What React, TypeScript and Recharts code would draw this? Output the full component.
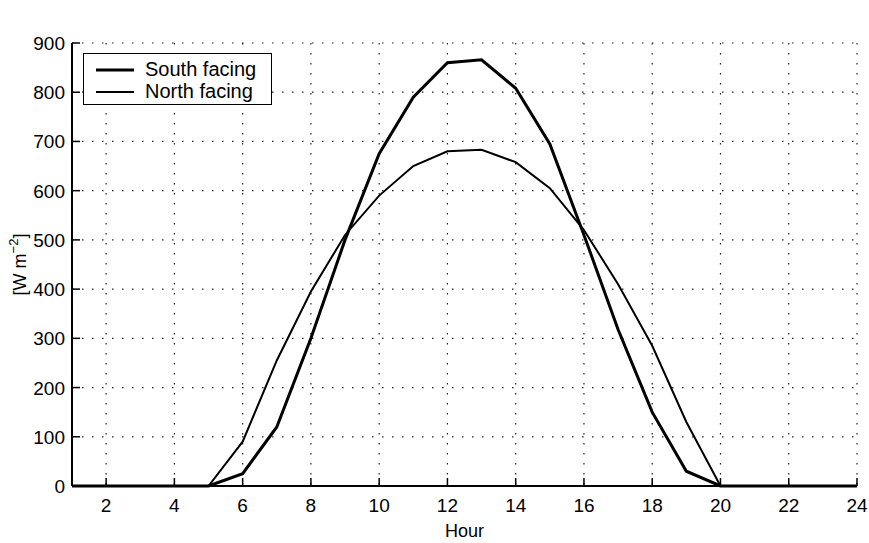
import React from 'react';
import { LineChart, Line, XAxis, YAxis, CartesianGrid, Legend } from 'recharts';

const hours = [1, 2, 3, 4, 5, 6, 7, 8, 9, 10, 11, 12, 13, 14, 15, 16, 17, 18, 19, 20, 21, 22, 23, 24];
const southFacing = [0, 0, 0, 0, 0, 25, 120, 300, 500, 675, 790, 860, 866, 808, 695, 510, 318, 150, 30, 0, 0, 0, 0, 0];
const northFacing = [0, 0, 0, 0, 0, 90, 255, 395, 510, 590, 650, 680, 683, 658, 605, 520, 410, 285, 130, 0, 0, 0, 0, 0];

const xTicks = [2, 4, 6, 8, 10, 12, 14, 16, 18, 20, 22, 24];
const yTicks = [0, 100, 200, 300, 400, 500, 600, 700, 800, 900];

const FONT = 'Liberation Sans, Arial, Helvetica, sans-serif';

const data = hours.map((h, i) => ({
  hour: h,
  south: southFacing[i],
  north: northFacing[i],
}));

const TICK = 8;

const BottomTick = (props: any) => {
  const { x, y, payload } = props;
  return (
    <g>
      <line x1={x} y1={y} x2={x} y2={y - TICK} stroke="#000" strokeWidth={1.5} />
      <text x={x} y={y + 26} textAnchor="middle" fontSize={19} fontFamily={FONT} fill="#000">
        {payload.value}
      </text>
    </g>
  );
};

const TopTick = (props: any) => {
  const { x, y } = props;
  return <line x1={x} y1={y} x2={x} y2={y + TICK} stroke="#000" strokeWidth={1.5} />;
};

const LeftTick = (props: any) => {
  const { x, y, payload } = props;
  return (
    <g>
      <line x1={x} y1={y} x2={x + TICK} y2={y} stroke="#000" strokeWidth={1.5} />
      <text x={x - 7} y={y + 7} textAnchor="end" fontSize={19} fontFamily={FONT} fill="#000">
        {payload.value}
      </text>
    </g>
  );
};

const RightTick = (props: any) => {
  const { x, y } = props;
  return <line x1={x} y1={y} x2={x - TICK} y2={y} stroke="#000" strokeWidth={1.5} />;
};

const YLabel = (props: any) => {
  const vb = props.viewBox || { x: 0, y: 43, width: 72, height: 443 };
  const cx = 26;
  const cy = vb.y + vb.height / 2;
  return (
    <text
      x={cx}
      y={cy}
      transform={`rotate(-90 ${cx} ${cy})`}
      textAnchor="middle"
      fontSize={18}
      fontFamily={FONT}
      fill="#000"
    >
      [W m<tspan dy={-8} fontSize={13}>−2</tspan>
      <tspan dy={8}>]</tspan>
    </text>
  );
};

const LegendBox = () => (
  <div
    style={{
      border: '1.5px solid #000',
      background: '#fff',
      width: 189,
      height: 52,
      boxSizing: 'border-box',
      fontFamily: FONT,
      fontSize: 20,
      color: '#000',
      padding: '4px 0 0 11px',
      lineHeight: '22px',
    }}
  >
    {[
      { name: 'South facing', w: 3 },
      { name: 'North facing', w: 2.2 },
    ].map((item) => (
      <div key={item.name} style={{ display: 'flex', alignItems: 'center' }}>
        <svg width={50} height={22}>
          <line x1={1} y1={12} x2={39} y2={12} stroke="#000" strokeWidth={item.w} />
        </svg>
        <span>{item.name}</span>
      </div>
    ))}
  </div>
);

export default function App() {
  return (
    <div style={{ position: 'absolute', left: 0, top: 0, background: '#fff' }}>
      <LineChart
        width={869}
        height={543}
        data={data}
        margin={{ top: 43, right: 12, bottom: 0, left: 0 }}
      >
        <CartesianGrid
          stroke="#222"
          strokeWidth={1.2}
          strokeDasharray="1.5 8.5"
          verticalPoints={undefined}
        />
        <XAxis
          dataKey="hour"
          type="number"
          domain={[1, 24]}
          ticks={xTicks}
          tickSize={0}
          tickMargin={0}
          tickLine={false}
          height={57}
          axisLine={{ stroke: '#000', strokeWidth: 2 }}
          tick={<BottomTick />}
          interval={0}
          label={{ value: 'Hour', position: 'insideBottom', offset: 6, fontSize: 18, fontFamily: FONT, fill: '#000' }}
        />
        <XAxis
          xAxisId="top"
          dataKey="hour"
          type="number"
          orientation="top"
          domain={[1, 24]}
          ticks={xTicks}
          tickSize={0}
          tickMargin={0}
          tickLine={false}
          height={0}
          axisLine={{ stroke: '#000', strokeWidth: 2 }}
          tick={<TopTick />}
          interval={0}
          label={{ value: 'Global Irradiance', position: 'top', offset: 18, fontSize: 18, fontFamily: FONT, fill: '#000' }}
        />
        <YAxis
          type="number"
          domain={[0, 900]}
          ticks={yTicks}
          width={72}
          tickSize={0}
          tickMargin={0}
          tickLine={false}
          axisLine={{ stroke: '#000', strokeWidth: 2 }}
          tick={<LeftTick />}
          interval={0}
          label={(p: any) => <YLabel {...p} />}
        />
        <YAxis
          yAxisId="right"
          orientation="right"
          type="number"
          domain={[0, 900]}
          ticks={yTicks}
          width={0}
          tickSize={0}
          tickMargin={0}
          tickLine={false}
          axisLine={{ stroke: '#000', strokeWidth: 2 }}
          tick={<RightTick />}
          interval={0}
        />
        <Legend
          layout="horizontal"
          verticalAlign="middle"
          align="center"
          content={() => <LegendBox />}
          wrapperStyle={{ position: 'absolute', left: 83, top: 53, width: 'auto' }}
        />
        <Line
          type="linear"
          dataKey="south"
          name="South facing"
          stroke="#000"
          strokeWidth={3}
          dot={false}
          isAnimationActive={false}
        />
        <Line
          type="linear"
          dataKey="north"
          name="North facing"
          stroke="#000"
          strokeWidth={2}
          dot={false}
          isAnimationActive={false}
        />
      </LineChart>
    </div>
  );
}
